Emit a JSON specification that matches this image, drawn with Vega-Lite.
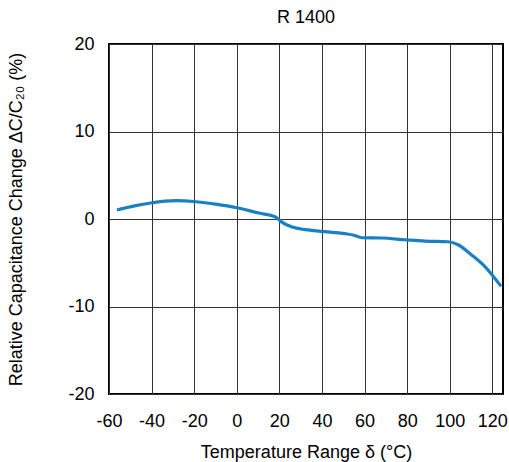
{
  "$schema": "https://vega.github.io/schema/vega-lite/v6.json",
  "width": 394,
  "height": 350,
  "autosize": {"type": "none"},
  "padding": {"left": 109, "top": 44, "right": 6, "bottom": 68},
  "title": {"text": "R 1400", "fontSize": 18, "fontWeight": "normal", "font": "Liberation Sans", "color": "#000", "offset": 8},
  "config": {
    "view": {"stroke": "#000", "strokeWidth": 2},
    "axis": {"labelFont": "Liberation Sans", "titleFont": "Liberation Sans", "labelFontSize": 18, "titleFontSize": 18, "titleFontWeight": "normal", "labelColor": "#000", "titleColor": "#000", "domain": false, "ticks": false, "gridColor": "#333", "gridWidth": 1, "gridOpacity": 1, "labelFlush": false}
  },
  "data": {"values": [
    {"t": -56.3, "c": 1.03},
    {"t": -48, "c": 1.5},
    {"t": -40.4, "c": 1.83},
    {"t": -28.5, "c": 2.09},
    {"t": -20, "c": 2.0},
    {"t": -10, "c": 1.7},
    {"t": 0, "c": 1.29},
    {"t": 10.4, "c": 0.68},
    {"t": 18.2, "c": 0.23},
    {"t": 20.6, "c": -0.27},
    {"t": 26, "c": -0.92},
    {"t": 32.2, "c": -1.22},
    {"t": 39.4, "c": -1.41},
    {"t": 50.9, "c": -1.68},
    {"t": 55, "c": -1.85},
    {"t": 58.7, "c": -2.14},
    {"t": 68, "c": -2.17},
    {"t": 79.1, "c": -2.37},
    {"t": 88.3, "c": -2.52},
    {"t": 99.2, "c": -2.6},
    {"t": 103.9, "c": -2.94},
    {"t": 110.1, "c": -4.08},
    {"t": 116.4, "c": -5.41},
    {"t": 124.1, "c": -7.7}
  ]},
  "mark": {"type": "line", "color": "#1a80c4", "strokeWidth": 3.2, "interpolate": "monotone", "clip": true},
  "encoding": {
    "x": {"field": "t", "type": "quantitative", "scale": {"domain": [-60, 125], "nice": false, "zero": false},
      "axis": {"values": [-60, -40, -20, 0, 20, 40, 60, 80, 100, 120], "labelExpr": "'' + datum.value", "title": "Temperature Range δ (°C)", "labelPadding": 18, "titlePadding": 13, "labelOverlap": false}},
    "y": {"field": "c", "type": "quantitative", "scale": {"domain": [-20, 20], "nice": false},
      "axis": {"values": [-20, -10, 0, 10, 20], "labelExpr": "'' + datum.value", "title": "Relative Capacitance Change ΔC/C₂₀ (%)", "labelPadding": 15, "titlePadding": 42}}
  }
}
